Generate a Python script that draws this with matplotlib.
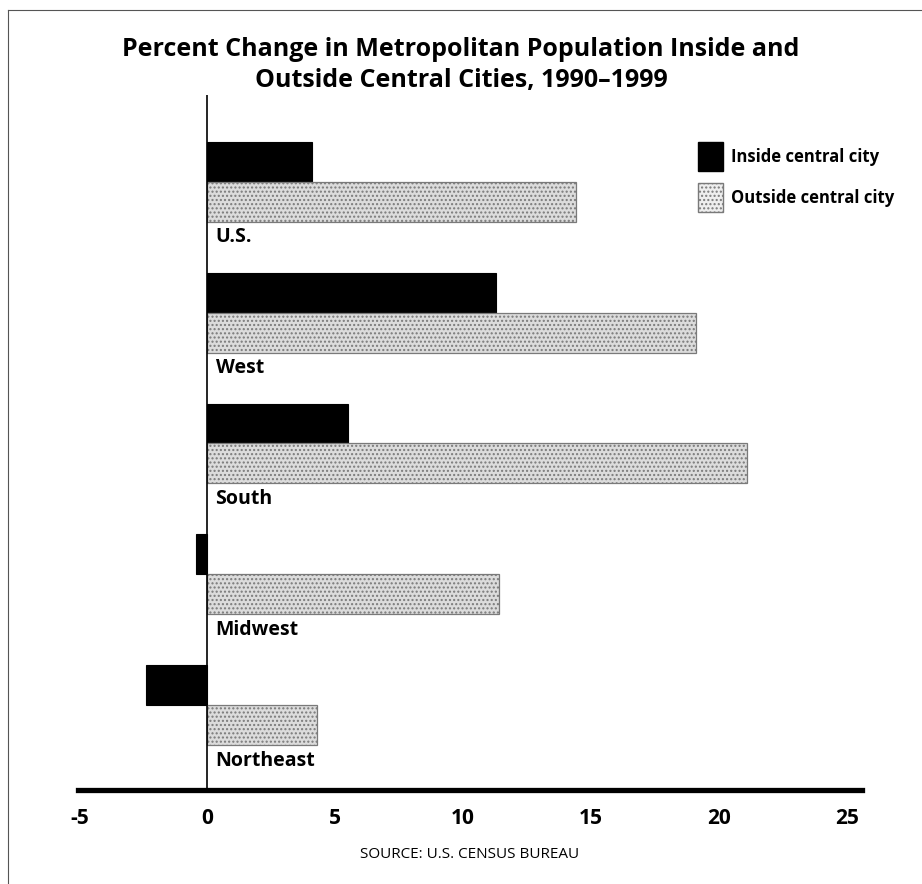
import numpy as np
import matplotlib.pyplot as plt
from matplotlib.lines import Line2D
from matplotlib.patches import Patch

plt.rcParams['font.family'] = ['Open Sans', 'DejaVu Sans']

regions = ['U.S.', 'West', 'South', 'Midwest', 'Northeast']
inside = [4.1, 11.3, 5.5, -0.45, -2.4]      # inside central city
outside = [14.4, 19.1, 21.1, 11.4, 4.3]     # outside central city
ticks = [-5, 0, 5, 10, 15, 20, 25]

W, H = 922, 884
fig = plt.figure(figsize=(W / 100, H / 100), dpi=100)
fig.patch.set_facecolor('white')

# axes box in pixel terms: x 78..862, y 95..790
ax = fig.add_axes([78 / W, (H - 790) / H, (862 - 78) / W, (790 - 95) / H])

pos = np.arange(len(regions))
bh = 0.305
ax.barh(pos - bh / 2, inside, height=bh, color='black', edgecolor='black', lw=0.8)
ax.barh(pos + bh / 2, outside, height=bh, color='#dcdcdc', edgecolor='#7a7a7a',
        hatch='....', lw=0.9)

for p, name in zip(pos, regions):
    ax.annotate(name, (0, p + bh + 0.12), xytext=(6, 0), textcoords='offset points',
                ha='left', va='center', fontsize=14, fontweight='bold')

ax.axvline(0, color='black', lw=1.2, zorder=3)

ax.set_xlim(-5.05, 25.6)
ax.set_ylim(4.649, -0.664)
ax.set_xticks(ticks)
ax.set_xticklabels([str(t) for t in ticks], fontsize=15, fontweight='bold')
ax.tick_params(axis='x', length=0, pad=13)
ax.set_yticks([])
for s in ['top', 'right', 'left']:
    ax.spines[s].set_visible(False)
ax.spines['bottom'].set_linewidth(3.8)

# legend
handles = [Patch(facecolor='black', edgecolor='black'),
           Patch(facecolor='#eeeeee', edgecolor='#7a7a7a', hatch='....')]
fig.legend(handles, ['Inside central city', 'Outside central city'],
           loc='upper left', bbox_to_anchor=(683 / W, 1 - 127 / H),
           frameon=False, prop={'weight': 'bold', 'size': 12},
           handlelength=1.5, handleheight=2.3, labelspacing=0.75,
           handletextpad=0.45)

fig.text(0.5, 1 - 49 / H, 'Percent Change in Metropolitan Population Inside and',
         ha='center', va='center', fontsize=18, fontweight='bold')
fig.text(0.5, 1 - 80 / H, 'Outside Central Cities, 1990\u20131999',
         ha='center', va='center', fontsize=18, fontweight='bold')
fig.text(470 / W, 1 - 855 / H, 'SOURCE: U.S. CENSUS BUREAU',
         ha='center', va='center', fontsize=11)

# frame of the page
fig.add_artist(Line2D([8 / W, 8 / W], [0, 1 - 10 / H], color='#555555', lw=0.8))
fig.add_artist(Line2D([8 / W, 1], [1 - 10 / H, 1 - 10 / H], color='#555555', lw=0.8))

fig.savefig('out.png', dpi=100)
